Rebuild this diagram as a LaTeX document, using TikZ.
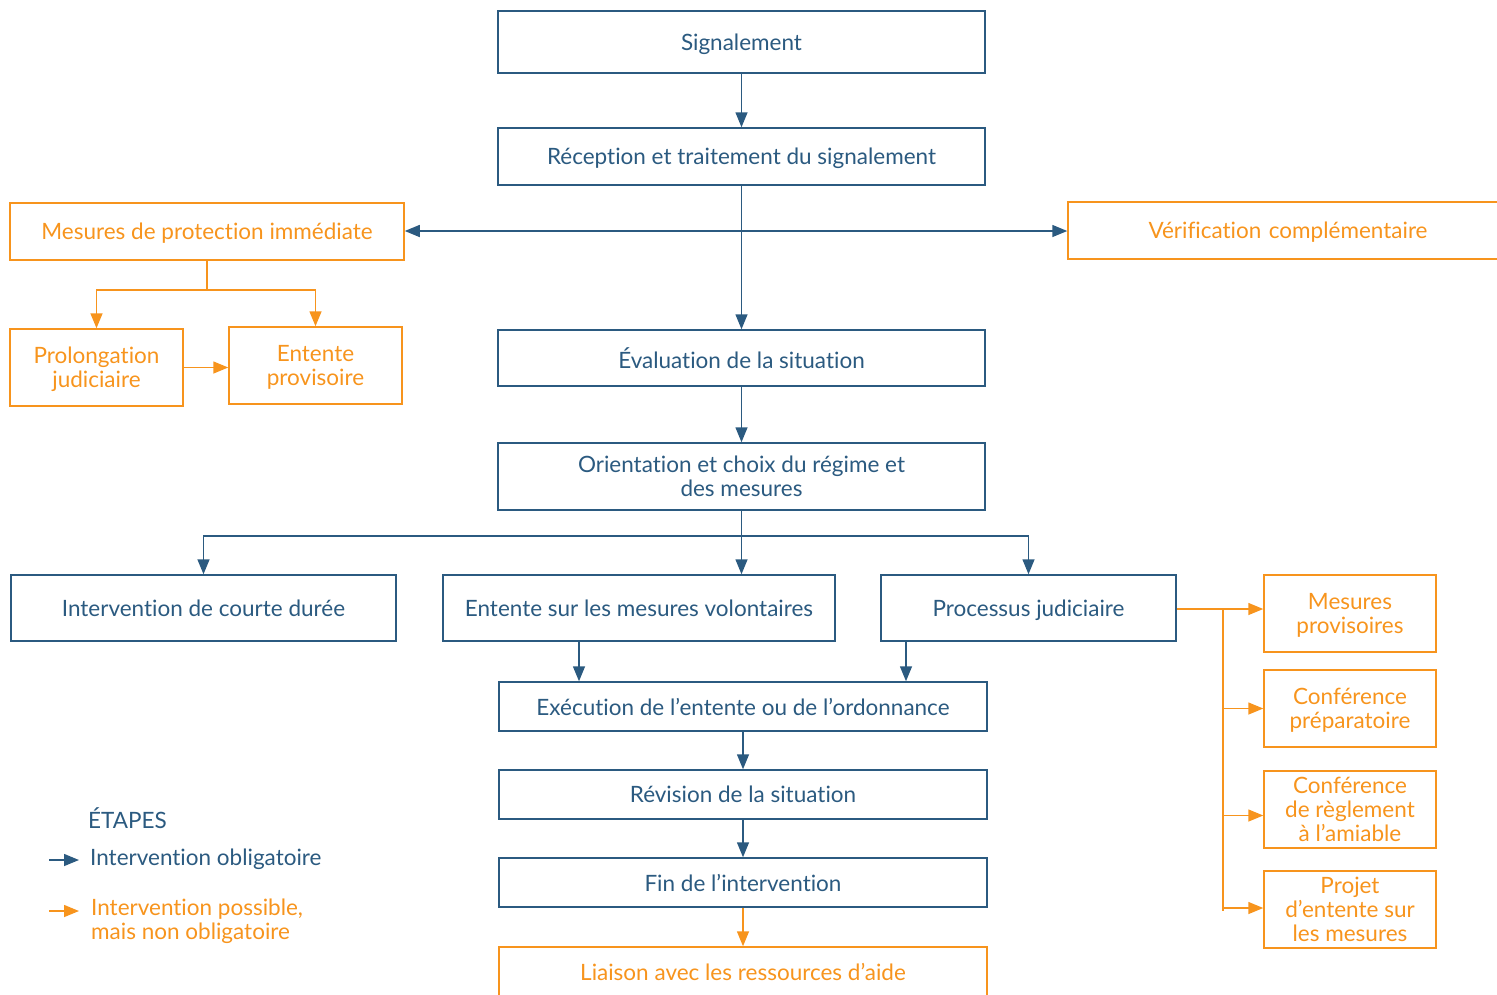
\documentclass[tikz,border=0pt]{standalone}
\usepackage{fontspec}
\setmainfont{Lato}[Ligatures=NoCommon]
\usetikzlibrary{arrows.meta,calc}
\definecolor{cblue}{HTML}{2B5A80}
\definecolor{corange}{HTML}{F7941D}
\begin{document}
\begin{tikzpicture}[x=1pt,y=-1pt,
  every node/.style={font=\fontsize{22.5}{24}\selectfont, align=center, inner sep=0pt},
  bbox/.style={draw=cblue, line width=1.5pt, text=cblue, rectangle, text depth=0pt},
  obox/.style={draw=corange, line width=1.5pt, text=corange, rectangle, text depth=0pt},
  barr/.style={draw=cblue, line width=1.5pt, -{Triangle[length=15pt,width=12pt]}},
  oarr/.style={draw=corange, line width=1.5pt, -{Triangle[length=15pt,width=12pt]}},
  bline/.style={draw=cblue, line width=1.5pt},
  oline/.style={draw=corange, line width=1.5pt}]
\useasboundingbox (0,0) rectangle (1497,994);
% main column
\node[bbox, minimum width=487, minimum height=62] (sig) at (741.5,42) {Signalement};
\node[bbox, minimum width=487, minimum height=57] (rec) at (741.5,156.5) {Réception et traitement du signalement};
\node[obox, minimum width=394, minimum height=57] (prot) at (207,231.5) {Mesures de protection immédiate};
\node[obox, minimum width=440, minimum height=57, text width=440] (ver) at (1288,230.5) {Vérification complémentaire};
\node[bbox, minimum width=487, minimum height=56] (eva) at (741.5,358) {Évaluation de la situation};
\node[bbox, minimum width=487, minimum height=67] (ori) at (741.5,476.5) {Orientation et choix du régime et\\des mesures};
\node[bbox, minimum width=385, minimum height=66] (cou) at (203.5,608) {Intervention de courte durée};
\node[bbox, minimum width=392, minimum height=66] (vol) at (639,608) {Entente sur les mesures volontaires};
\node[bbox, minimum width=295, minimum height=66] (jud) at (1028.5,608) {Processus judiciaire};
\node[bbox, minimum width=488, minimum height=49] (exe) at (743,706.5) {Exécution de l’entente ou de l’ordonnance};
\node[bbox, minimum width=488, minimum height=49] (rev) at (743,794.5) {Révision de la situation};
\node[bbox, minimum width=488, minimum height=49] (fin) at (743,882.5) {Fin de l’intervention};
\node[obox, minimum width=488, minimum height=50] (lia) at (743,972) {Liaison avec les ressources d’aide};
% protection subtree
\node[obox, minimum width=173, minimum height=77] (pro) at (96.5,367.5) {Prolongation\\judiciaire};
\node[obox, minimum width=173, minimum height=77] (ent) at (315.5,365.5) {Entente\\provisoire};
% right column
\node[obox, minimum width=172, minimum height=77] (mp) at (1350,613.5) {Mesures\\provisoires};
\node[obox, minimum width=172, minimum height=77] (cp) at (1350,708.5) {Conférence\\préparatoire};
\node[obox, minimum width=172, minimum height=77] (cr) at (1350,809.5) {Conférence\\de règlement\\à l’amiable};
\node[obox, minimum width=172, minimum height=77] (pe) at (1350,909.5) {Projet\\d’entente sur\\les mesures};
% connectors main
\draw[barr] (sig) -- (rec);
\draw[barr] (rec) -- (eva);
\coordinate (hj) at (743,231);
\draw[barr] (hj) -- (hj -| prot.east);
\draw[barr] (hj) -- (hj -| ver.west);
\draw[barr] (eva) -- (ori);
\coordinate (b0) at (741.5,536);
\draw[bline] (ori) -- (b0);
\draw[barr] (b0) -| (cou.north);
\draw[barr] (b0) -| (jud.north);
\draw[barr] (b0) -- (b0 |- vol.north);
\draw[barr] ([xshift=-60pt]vol.south) -- ([xshift=-60pt]vol.south |- exe.north);
\draw[barr] ([xshift=-122.5pt]jud.south) -- ([xshift=-122.5pt]jud.south |- exe.north);
\draw[barr] (exe) -- (rev);
\draw[barr] (rev) -- (fin);
\draw[oarr] (fin) -- (lia);
% protection subtree connectors
\coordinate (pj) at (207,290);
\draw[oline] (prot.south) -- (pj);
\draw[oarr] (pj) -| (pro.north);
\draw[oarr] (pj) -| (ent.north);
\draw[oarr] (pro.east) -- (pro.east -| ent.west);
% right connectors
\coordinate (rj) at (1223,609);
\draw[oline] (rj -| jud.east) -- (rj);
\draw[oarr] (rj) -- (rj -| mp.west);
\draw[oline] (rj) -- (1223,911);
\draw[oarr] (rj) |- (cp.west);
\draw[oarr] (rj) |- ([yshift=-6pt]cr.west);
\draw[oarr] (rj) |- ([yshift=1.5pt]pe.west);
% legend
\node[text=cblue, anchor=west] (etp) at (88,818) {ÉTAPES};
\coordinate (l1a) at (49,860);
\coordinate (l1b) at (79,860);
\draw[barr] (l1a) -- (l1b);
\node[text=cblue, anchor=west] (lob) at (90,859) {Intervention obligatoire};
\coordinate (l2a) at (49,911);
\coordinate (l2b) at (79,911);
\draw[oarr] (l2a) -- (l2b);
\node[text=corange, anchor=west, align=left] (lpo) at (91,921) {Intervention possible,\\mais non obligatoire};
\end{tikzpicture}
\end{document}
